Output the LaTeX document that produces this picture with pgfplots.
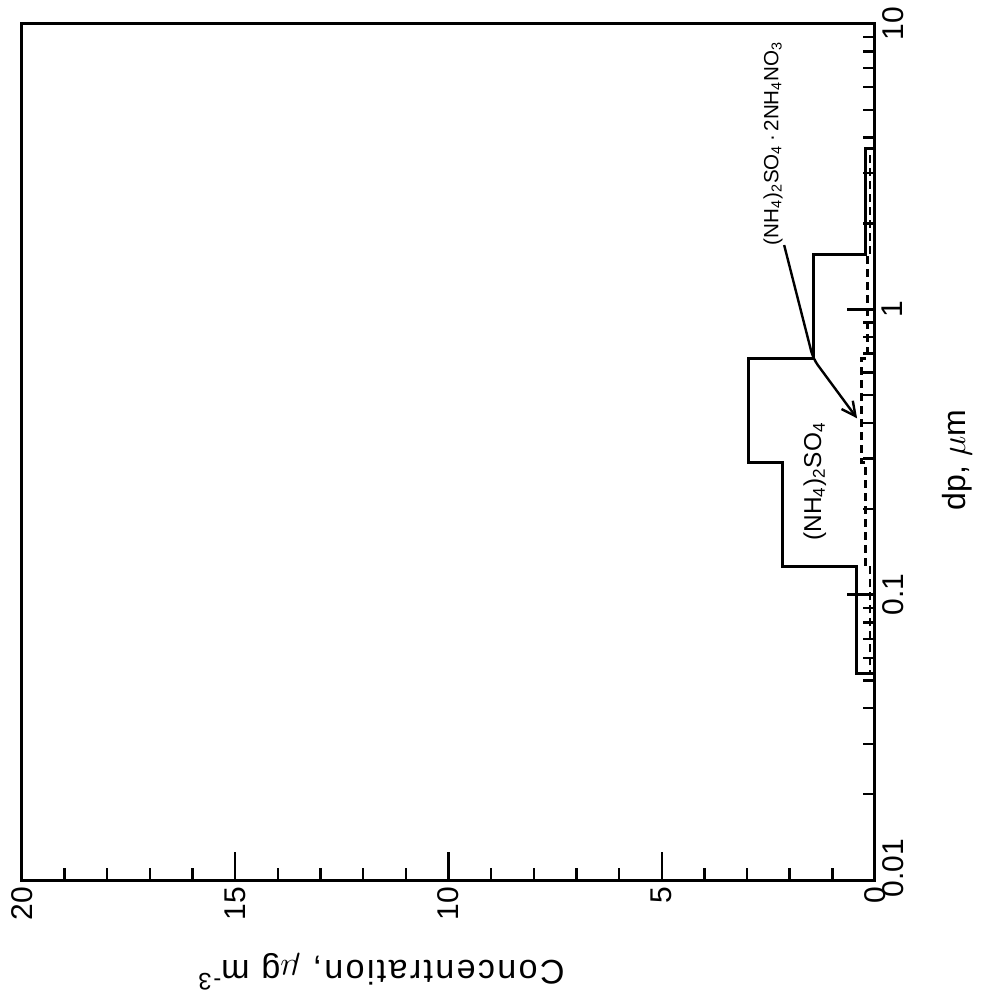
\documentclass[border=0pt]{standalone}
\usepackage{pgfplots}
\pgfplotsset{compat=1.18}
\usepackage{fontspec}
\setmainfont{Liberation Sans}
\usetikzlibrary{arrows.meta}
\begin{document}
\begin{tikzpicture}[x=0.5pt,y=0.5pt]
\useasboundingbox (0,0) rectangle (982,997);
\begin{axis}[
  at={(11pt,58.5pt)}, anchor=south west,
  scale only axis, width=426.5pt, height=428pt,
  xmin=0, xmax=20, x dir=reverse,
  ymode=log, ymin=0.01, ymax=10,
  xtick={0,5,10,15,20}, xticklabels={0,5,10,15,20},
  minor xtick={1,2,3,4,6,7,8,9,11,12,13,14,16,17,18,19},
  ytick={0.01,0.1,1,10}, yticklabels={\hspace*{12pt}0.01,0.1,1,10},
  minor ytick={0.02,0.03,0.04,0.05,0.06,0.07,0.08,0.09,0.2,0.3,0.4,0.5,0.6,0.7,0.8,0.9,2,3,4,5,6,7,8,9},
  xtick pos=bottom, ytick pos=right, yticklabel pos=right,
  tick align=inside,
  major tick length=14pt, minor tick length=6pt,
  every tick/.style={black, line width=1.2pt},
  axis line style={line width=1.5pt},
  ticklabel style={font=\fontsize{15}{18}\selectfont},
  xticklabel style={rotate=90, anchor=east},
  yticklabel style={rotate=90, anchor=north},
  clip=false,
]
\addplot[black, line width=1.5pt] coordinates {
  (0,0.053) (0.43,0.053) (0.43,0.126) (2.16,0.126) (2.16,0.29) (2.97,0.29)
  (2.97,0.671) (1.45,0.671) (1.45,1.56) (0.23,1.56) (0.23,3.67) (0,3.67)};
\addplot[black, line width=1.3pt, dash pattern=on 4pt off 2.5pt] coordinates {
  (0,0.053) (0.12,0.053) (0.12,0.126) (0.22,0.126) (0.22,0.29) (0.32,0.29)
  (0.32,0.671) (0.18,0.671) (0.18,1.56) (0.12,1.56) (0.12,3.67) (0,3.67)};
\node[rotate=90, font=\fontsize{12.2}{14}\selectfont] at (axis cs:1.41,0.249)
  {(NH\textsubscript{4})\textsubscript{2}SO\textsubscript{4}};
\node[rotate=90, font=\fontsize{10.3}{12}\selectfont] at (axis cs:2.39,3.82)
  {(NH\textsubscript{4})\textsubscript{2}SO\textsubscript{4}\,·\,2NH\textsubscript{4}NO\textsubscript{3}};
\draw[-{Straight Barb[length=7pt,width=7pt]}, line width=1.2pt, rounded corners=4pt]
  (axis cs:2.13,1.68) -- (axis cs:1.45,0.671) -- (axis cs:0.42,0.415);
\end{axis}
\node[rotate=180, font=\fontsize{17}{20}\selectfont\addfontfeature{LetterSpace=7}] at (381,25)
  {Concentration, $\mu$g m\textsuperscript{-3}};
\node[rotate=90, font=\fontsize{16}{19}\selectfont] at (957,537) {dp, $\mu$m};
\end{tikzpicture}
\end{document}
